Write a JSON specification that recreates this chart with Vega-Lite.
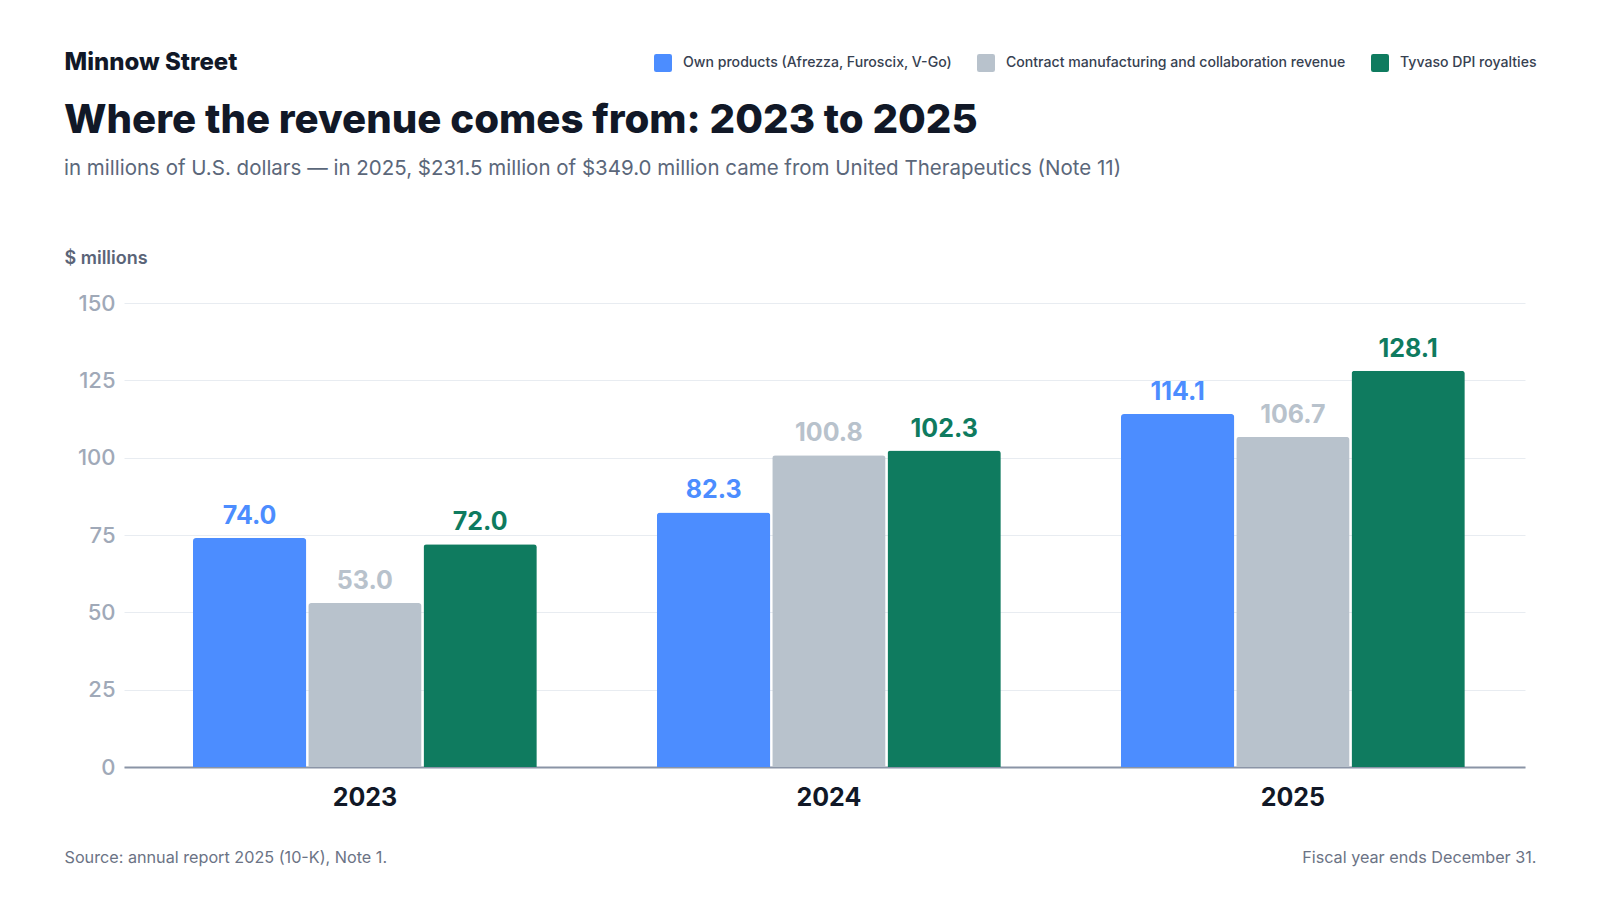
{
  "$schema": "https://vega.github.io/schema/vega-lite/v6.json",
  "autosize": {"type": "none"},
  "width": 1401,
  "height": 464,
  "padding": {"left": 124, "top": 303, "right": 75, "bottom": 133},
  "background": "white",
  "title": {
    "text": "Where the revenue comes from: 2023 to 2025",
    "subtitle": "in millions of U.S. dollars — in 2025, $231.5 million of $349.0 million came from United Therapeutics (Note 11)",
    "anchor": "start",
    "frame": "group",
    "dx": -60,
    "dy": 130,
    "offset": 0,
    "fontSize": 40.2,
    "fontWeight": 800,
    "color": "#111827",
    "subtitleFontSize": 20.5,
    "subtitleColor": "#5B677A",
    "subtitlePadding": 18
  },
  "data": {
    "values": [
      {"year": "2023", "series": "Own products (Afrezza, Furoscix, V-Go)", "value": 74.0},
      {"year": "2023", "series": "Contract manufacturing and collaboration revenue", "value": 53.0},
      {"year": "2023", "series": "Tyvaso DPI royalties", "value": 72.0},
      {"year": "2024", "series": "Own products (Afrezza, Furoscix, V-Go)", "value": 82.3},
      {"year": "2024", "series": "Contract manufacturing and collaboration revenue", "value": 100.8},
      {"year": "2024", "series": "Tyvaso DPI royalties", "value": 102.3},
      {"year": "2025", "series": "Own products (Afrezza, Furoscix, V-Go)", "value": 114.1},
      {"year": "2025", "series": "Contract manufacturing and collaboration revenue", "value": 106.7},
      {"year": "2025", "series": "Tyvaso DPI royalties", "value": 128.1}
    ]
  },
  "layer": [
    {
      "mark": {"type": "bar", "cornerRadiusTopLeft": 3, "cornerRadiusTopRight": 3},
      "encoding": {
        "x": {
          "field": "year",
          "type": "nominal",
          "scale": {"paddingInner": 0.259, "paddingOuter": 0.1392, "align": 0.534},
          "axis": {
            "orient": "bottom",
            "labelAngle": 0,
            "labelFontSize": 25,
            "labelFontWeight": "bold",
            "labelColor": "#111827",
            "labelPadding": 18,
            "ticks": false,
            "domain": true,
            "domainColor": "#8A94A6",
            "domainWidth": 2,
            "title": "Source: annual report 2025 (10-K), Note 1.",
            "titleX": -60,
            "titleY": 90,
            "titleAlign": "left",
            "titleAnchor": "start",
            "titleBaseline": "middle",
            "titleFontSize": 16.2,
            "titleFontWeight": "normal",
            "titleColor": "#6B7385"
          }
        },
        "xOffset": {
          "field": "series",
          "type": "nominal",
          "sort": ["Own products (Afrezza, Furoscix, V-Go)", "Contract manufacturing and collaboration revenue", "Tyvaso DPI royalties"],
          "scale": {"paddingInner": 0.017}
        },
        "y": {
          "field": "value",
          "type": "quantitative",
          "scale": {"domain": [0, 150], "nice": false},
          "axis": {
            "orient": "left",
            "values": [0, 25, 50, 75, 100, 125, 150],
            "labelFontSize": 22,
            "labelFontWeight": 500,
            "labelColor": "#A0A9B8",
            "labelPadding": 9,
            "ticks": false,
            "domain": false,
            "grid": true,
            "gridColor": "#E8ECF1",
            "gridWidth": 1,
            "title": "$ millions",
            "titleAngle": 0,
            "titleX": -60,
            "titleY": -45,
            "titleAlign": "left",
            "titleBaseline": "middle",
            "titleFontSize": 18,
            "titleFontWeight": 600,
            "titleColor": "#5A6478"
          }
        },
        "color": {
          "field": "series",
          "type": "nominal",
          "scale": {
            "domain": ["Own products (Afrezza, Furoscix, V-Go)", "Contract manufacturing and collaboration revenue", "Tyvaso DPI royalties"],
            "range": ["#4C8DFF", "#B8C2CC", "#0F7B5F"]
          },
          "legend": {
            "orient": "none",
            "direction": "horizontal",
            "columns": 3,
            "legendX": 530,
            "legendY": -249,
            "title": null,
            "symbolType": "M -0.75 -1 L 0.75 -1 Q 1 -1 1 -0.75 L 1 0.75 Q 1 1 0.75 1 L -0.75 1 Q -1 1 -1 0.75 L -1 -0.75 Q -1 -1 -0.75 -1 Z",
            "symbolSize": 324,
            "symbolStrokeWidth": 0,
            "symbolOpacity": 1,
            "labelFontSize": 14.1,
            "labelFontWeight": 500,
            "labelColor": "#374151",
            "labelOffset": 11,
            "labelLimit": 600,
            "columnPadding": 25
          }
        }
      }
    },
    {
      "mark": {"type": "text", "fontSize": 25, "fontWeight": "bold", "baseline": "alphabetic", "dy": -14},
      "encoding": {
        "x": {
          "field": "year",
          "type": "nominal",
          "axis": {
            "orient": "top",
            "labels": false,
            "ticks": false,
            "domain": false,
            "title": "Minnow Street",
            "titleX": -60,
            "titleY": -241,
            "titleAlign": "left",
            "titleBaseline": "middle",
            "titleFontSize": 24,
            "titleFontWeight": 800,
            "titleColor": "#111827"
          }
        },
        "xOffset": {
          "field": "series",
          "type": "nominal",
          "sort": ["Own products (Afrezza, Furoscix, V-Go)", "Contract manufacturing and collaboration revenue", "Tyvaso DPI royalties"]
        },
        "y": {
          "field": "value",
          "type": "quantitative",
          "axis": {
            "orient": "right",
            "labels": false,
            "ticks": false,
            "domain": false,
            "grid": false,
            "title": "Fiscal year ends December 31.",
            "titleAngle": 0,
            "titleX": 11,
            "titleY": 554,
            "titleAlign": "right",
            "titleBaseline": "middle",
            "titleFontSize": 16.2,
            "titleFontWeight": "normal",
            "titleColor": "#6B7385"
          }
        },
        "text": {"field": "value", "type": "quantitative", "format": ".1f"},
        "color": {"field": "series", "type": "nominal", "legend": null}
      }
    }
  ],
  "resolve": {"axis": {"x": "independent", "y": "independent"}},
  "config": {
    "font": "Inter",
    "view": {"stroke": null}
  }
}
